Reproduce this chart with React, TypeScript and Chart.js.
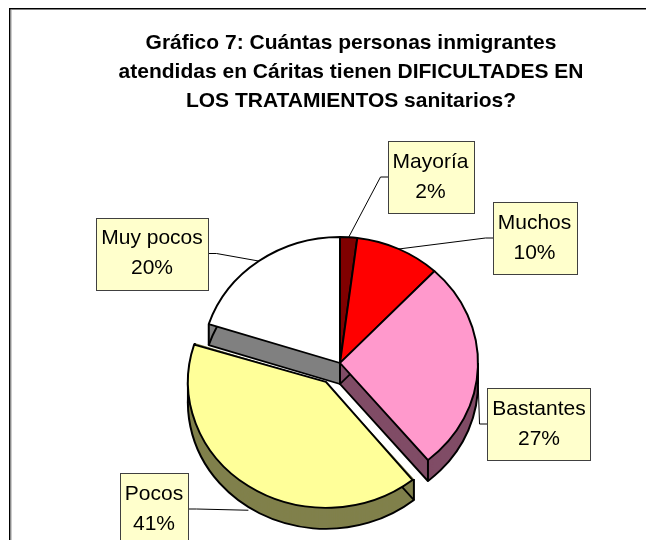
import { useEffect, useRef } from "react";
import { Chart, registerables } from "chart.js";

Chart.register(...registerables);

// ---------------- data ----------------
const categories = ["Mayoría", "Muchos", "Bastantes", "Pocos", "Muy pocos"];
const percentages = [2, 10, 27, 41, 20];
const exploded = [false, false, false, true, false];
const titleLines = [
  "Gráfico 7: Cuántas personas inmigrantes",
  "atendidas en Cáritas tienen DIFICULTADES EN",
  "LOS TRATAMIENTOS sanitarios?",
];

// ---------------- styles / layout ----------------
const topColors = ["#800000", "#FF0000", "#FF99CC", "#FFFF99", "#FFFFFF"];
const sideColors = ["#400000", "#800000", "#804C66", "#80804C", "#808080"];
const TILT = 0.913;
const DEPTH = 21;
const RADIUS = 138;
const EXPLODE_OFFSET = 100; // chart.js divides by 4 -> 25px
const FONT = "'Liberation Sans', Arial, Helvetica, sans-serif";

const labelLayout = [
  { cx: 430.5, cy: 177, side: "left", drop: 0 },
  { cx: 534.5, cy: 238, side: "left", drop: 0 },
  { cx: 539, cy: 424, side: "left", drop: 0.3 },
  { cx: 154, cy: 509, side: "right", drop: 1.15 },
  { cx: 152, cy: 253.5, side: "right", drop: 0 },
];

function sectorPath(ctx: CanvasRenderingContext2D, x: number, y: number, r: number, s: number, e: number) {
  ctx.beginPath();
  ctx.moveTo(x, y);
  ctx.arc(x, y, r, s, e);
  ctx.closePath();
}

function inRange(a: number, s: number, e: number) {
  for (let k = -2; k <= 2; k++) {
    const v = a + k * Math.PI * 2;
    if (v >= s && v <= e) return true;
  }
  return false;
}

function geometry(chart: any) {
  const meta = chart.getDatasetMeta(0);
  return meta.data.map((arc: any, i: number) => {
    const off = (arc.options.offset || 0) / 4;
    const mid = (arc.startAngle + arc.endAngle) / 2;
    return {
      i,
      cx0: arc.x,
      cy0: arc.y,
      x: arc.x + Math.cos(mid) * off,
      y: arc.y + Math.sin(mid) * off,
      r: arc.outerRadius,
      s: arc.startAngle,
      e: arc.endAngle,
      mid,
    };
  });
}

const pie3d = {
  id: "pie3d",
  beforeDraw(chart: any) {
    const ctx = chart.ctx as CanvasRenderingContext2D;
    ctx.save();
    ctx.fillStyle = "#FFFFFF";
    ctx.fillRect(0, 0, chart.width, chart.height);
    // frame
    ctx.fillStyle = "#000000";
    ctx.fillRect(9, 8, 637, 1.5);
    ctx.fillRect(9, 8, 1.5, chart.height);
    ctx.fillStyle = "#9a9a9a";
    ctx.fillRect(10.5, 9.5, 1, chart.height);
    // title
    ctx.fillStyle = "#000000";
    ctx.font = `bold 21px ${FONT}`;
    ctx.textAlign = "center";
    ctx.textBaseline = "middle";
    titleLines.forEach((line, k) => ctx.fillText(line, 351, 43 + k * 29));
    ctx.restore();
  },
  beforeDatasetsDraw(chart: any) {
    const ctx = chart.ctx as CanvasRenderingContext2D;
    const meta = chart.getDatasetMeta(0);
    const geo = geometry(chart);
    const cx = geo[0].cx0;
    const cy = geo[0].cy0;
    ctx.save();
    ctx.translate(cx, cy);
    ctx.scale(1, TILT);
    ctx.translate(-cx, -cy);
    const dz = DEPTH / TILT;
    const order = [...geo].sort(
      (a: any, b: any) => a.y + Math.sin(a.mid) * a.r * 0.5 - (b.y + Math.sin(b.mid) * b.r * 0.5)
    );
    for (const g of order) {
      ctx.fillStyle = sideColors[g.i];
      for (let d = dz; d >= 0; d -= 0.5) {
        sectorPath(ctx, g.x, g.y + d, g.r, g.s, g.e);
        ctx.fill();
      }
      ctx.strokeStyle = "#000000";
      ctx.lineWidth = 2;
      ctx.lineJoin = "round";
      sectorPath(ctx, g.x, g.y + dz, g.r, g.s, g.e);
      ctx.stroke();
      const pts: number[][] = [
        [g.x, g.y],
        [g.x + Math.cos(g.s) * g.r, g.y + Math.sin(g.s) * g.r],
        [g.x + Math.cos(g.e) * g.r, g.y + Math.sin(g.e) * g.r],
      ];
      if (inRange(0, g.s, g.e)) pts.push([g.x + g.r, g.y]);
      if (inRange(Math.PI, g.s, g.e)) pts.push([g.x - g.r, g.y]);
      ctx.beginPath();
      for (const p of pts) {
        ctx.moveTo(p[0], p[1]);
        ctx.lineTo(p[0], p[1] + dz);
      }
      ctx.stroke();
    }
    // compensate chart.js radius growth on offset slices
    meta.data.forEach((arc: any) => {
      const off = (arc.options.offset || 0) / 4;
      if (off > 0) {
        const fix = 1 - Math.sin(Math.min(Math.PI, arc.circumference || 0));
        arc.$origR = arc.outerRadius;
        arc.outerRadius = arc.outerRadius - off * fix;
      }
    });
  },
  afterDatasetsDraw(chart: any) {
    const ctx = chart.ctx as CanvasRenderingContext2D;
    const meta = chart.getDatasetMeta(0);
    meta.data.forEach((arc: any) => {
      if (arc.$origR !== undefined) {
        arc.outerRadius = arc.$origR;
        delete arc.$origR;
      }
    });
    ctx.restore();

    // labels
    const geo = geometry(chart);
    const cy = geo[0].cy0;
    const total = percentages.reduce((a, b) => a + b, 0);
    ctx.save();
    ctx.font = `21px ${FONT}`;
    ctx.textAlign = "center";
    ctx.textBaseline = "middle";
    geo.forEach((g: any) => {
      const L = labelLayout[g.i];
      const lines = [categories[g.i], Math.round((percentages[g.i] / total) * 100) + "%"];
      const w = Math.max(...lines.map((t) => ctx.measureText(t).width)) + 10;
      const h = 72;
      const bx = Math.round(L.cx - w / 2) + 0.5;
      const by = Math.round(L.cy - h / 2) + 0.5;
      // leader
      const px = g.x + Math.cos(g.mid) * g.r;
      const py = cy + (g.y + Math.sin(g.mid) * g.r - cy) * TILT + L.drop * DEPTH;
      const sx = L.side === "left" ? bx : bx + Math.round(w);
      const stub = L.side === "left" ? sx - 8 : sx + 8;
      ctx.strokeStyle = "#000000";
      ctx.lineWidth = 1;
      ctx.beginPath();
      ctx.moveTo(sx, L.cy);
      ctx.lineTo(stub, L.cy);
      ctx.lineTo(px, py);
      ctx.stroke();
      // box
      ctx.fillStyle = "#FFFFCC";
      ctx.fillRect(bx, by, Math.round(w), h);
      ctx.strokeStyle = "#404040";
      ctx.strokeRect(bx, by, Math.round(w), h);
      ctx.fillStyle = "#000000";
      ctx.fillText(lines[0], L.cx, L.cy - 15);
      ctx.fillText(lines[1], L.cx, L.cy + 15);
    });
    ctx.restore();
  },
};

export default function App() {
  const ref = useRef<HTMLCanvasElement | null>(null);
  useEffect(() => {
    if (!ref.current) return;
    const chart = new Chart(ref.current, {
      type: "pie",
      data: {
        labels: categories,
        datasets: [
          {
            data: percentages,
            backgroundColor: topColors,
            borderColor: "#000000",
            borderWidth: 2,
            offset: exploded.map((e) => (e ? EXPLODE_OFFSET : 0)),
            hoverOffset: 0,
            clip: false,
          } as any,
        ],
      },
      options: {
        responsive: false,
        animation: false,
        radius: RADIUS,
        layout: { padding: { left: 40, right: 10, top: 190, bottom: 4 } },
        plugins: {
          legend: { display: false },
          title: { display: false },
          tooltip: { enabled: false },
        },
        events: [],
      } as any,
      plugins: [pie3d],
    });
    return () => chart.destroy();
  }, []);
  return (
    <div style={{ position: "fixed", left: 0, top: 0, width: 650, height: 540, background: "#fff" }}>
      <canvas ref={ref} width={650} height={540} />
    </div>
  );
}
